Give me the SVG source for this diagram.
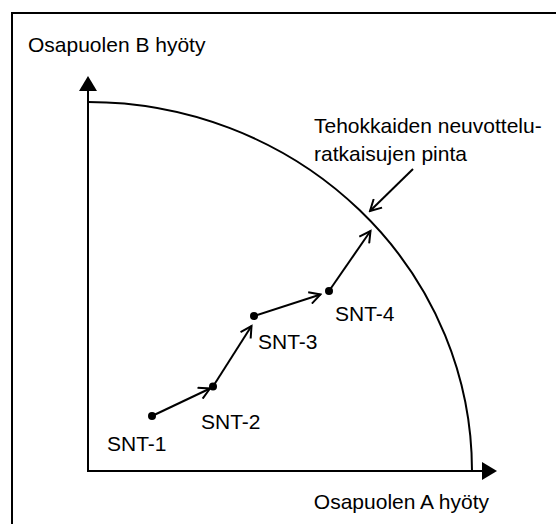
<svg xmlns="http://www.w3.org/2000/svg" width="556" height="524" viewBox="0 0 556 524">
<style>
text{font-family:"Liberation Sans",Arial,sans-serif;font-size:21px;fill:#000}
.ln{stroke:#000;stroke-width:2;fill:none}
.dot{fill:#000}
</style>
<defs>
<marker id="open" markerWidth="14" markerHeight="14" viewBox="-12 -7 14 14" refX="0" refY="0" orient="auto" markerUnits="userSpaceOnUse">
<polyline points="-11,-6 0,0 -11,6" fill="none" stroke="#000" stroke-width="2"/>
</marker>
</defs>
<rect x="0" y="0" width="556" height="524" fill="#fff"/>
<rect x="12" y="13" width="600" height="600" fill="none" stroke="#000" stroke-width="2"/>
<g id="axes">
<line class="ln" x1="88" y1="471" x2="88" y2="90"/>
<polygon points="88,76 79,91 97,91" fill="#000"/>
<line class="ln" x1="87" y1="471" x2="483" y2="471"/>
<polygon points="497,471 482,462 482,480" fill="#000"/>
<text x="28" y="52">Osapuolen B hyöty</text>
<text x="489" y="509" text-anchor="end">Osapuolen A hyöty</text>
</g>
<g id="frontier">
<path class="ln" d="M88,102 A384,369 0 0 1 472,471"/>
<text x="314" y="133">Tehokkaiden neuvottelu-</text>
<text x="314" y="161">ratkaisujen pinta</text>
</g>
<g id="snt1"><circle class="dot" cx="152" cy="416" r="4"/><text x="107" y="451">SNT-1</text></g>
<g id="snt2"><circle class="dot" cx="213" cy="386.5" r="4"/><text x="201" y="429">SNT-2</text></g>
<g id="snt3"><circle class="dot" cx="254" cy="316" r="4"/><text x="258" y="349">SNT-3</text></g>
<g id="snt4"><circle class="dot" cx="329" cy="291" r="4"/><text x="335" y="321">SNT-4</text></g>
<g id="connectors">
<line class="ln" x1="152" y1="416" x2="210" y2="388.5" marker-end="url(#open)"/>
<line class="ln" x1="213" y1="386.5" x2="251.5" y2="326" marker-end="url(#open)"/>
<line class="ln" x1="254" y1="316" x2="320.5" y2="294.5" marker-end="url(#open)"/>
<line class="ln" x1="329" y1="291" x2="370.5" y2="231" marker-end="url(#open)"/>
<line class="ln" x1="413" y1="169" x2="370" y2="211" marker-end="url(#open)"/>
</g>
</svg>
